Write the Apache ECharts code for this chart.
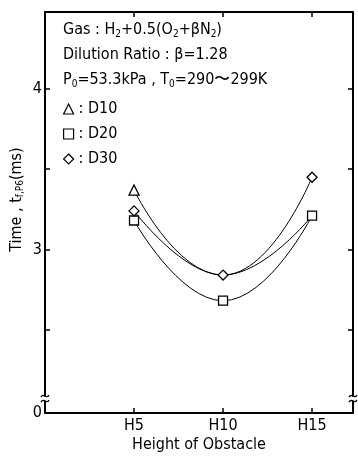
<!DOCTYPE html>
<html><head><meta charset="utf-8">
<script src="https://cdn.jsdelivr.net/npm/echarts@6/dist/echarts.min.js"></script>
<style>html,body{margin:0;padding:0;background:#fff}#c{width:358px;height:458px}</style>
</head><body><div id="c"></div>
<script>
const categories = ['H5', 'H10', 'H15'];
const xPositions = [5, 10, 15];
const seriesNames = ['D10', 'D20', 'D30'];
const d10 = [3.37, 2.84, 3.21];
const d20 = [3.18, 2.68, 3.21];
const d30 = [3.24, 2.84, 3.45];
const yTickLabels = [0, 3, 4];
const yTickMarks = [2.5, 3, 3.5, 4];
const yBreak = [0.09, 2.07];
const d10MarkerShown = [true, false, false];

const FONT = "'Liberation Sans Narrow','DejaVu Sans Condensed','Liberation Sans',sans-serif";
const chart = echarts.init(document.getElementById('c'));

function pts(vals, shown) {
  return vals.map((v, i) => {
    const item = { value: [xPositions[i], v] };
    if (shown && !shown[i]) item.symbol = 'none';
    return item;
  });
}
const axisLine = { show: true, onZero: false, lineStyle: { color: '#000', width: 2 } };
const axisTick = { show: true, inside: true, length: 5, lineStyle: { color: '#000', width: 1.5 } };
const yAxisTick = Object.assign({ customValues: yTickMarks }, axisTick);
const xLab = v => { const i = xPositions.indexOf(v); return i >= 0 ? categories[i] : ''; };
const sym = { color: '#fff', borderColor: '#000', borderWidth: 1.3 };

const option = {
  animation: false,
  grid: { left: 45, right: 5, top: 12, bottom: 45, containLabel: false, outerBoundsMode: 'none' },
  xAxis: [
    { type: 'value', min: 0, max: 17.3, interval: 5, position: 'bottom', axisLine, axisTick,
      splitLine: { show: false },
      axisLabel: { formatter: xLab, color: '#000', fontFamily: FONT, fontSize: 16, margin: 5 },
      name: 'Height of Obstacle', nameLocation: 'middle', nameGap: 24, nameMoveOverlap: false,
      nameTextStyle: { color: '#000', fontFamily: FONT, fontSize: 16 } },
    { type: 'value', min: 0, max: 17.3, interval: 5, position: 'top', axisLine, axisTick,
      splitLine: { show: false }, axisLabel: { show: false } }
  ],
  yAxis: [
    { type: 'value', min: 0, max: 4.48, interval: 0.5, position: 'left', axisLine, axisTick: yAxisTick,
      breaks: [{ start: yBreak[0], end: yBreak[1], gap: 0 }], breakArea: { show: false },
      splitLine: { show: false },
      axisLabel: { customValues: yTickLabels, formatter: v => String(Math.round(v)), color: '#000', fontFamily: FONT, fontSize: 16, margin: 3, hideOverlap: false },
      name: 'Time , t{s|f,P6}(ms)', nameLocation: 'middle', nameGap: 20, nameMoveOverlap: false,
      nameTextStyle: { color: '#000', fontFamily: FONT, fontSize: 16, padding: [0, 0, 0, 26],
        rich: { s: { fontFamily: FONT, fontSize: 10, verticalAlign: 'bottom', padding: [6, 0, 0, 0] } } } },
    { type: 'value', min: 0, max: 4.48, interval: 0.5, position: 'right', axisLine, axisTick: yAxisTick,
      breaks: [{ start: yBreak[0], end: yBreak[1], gap: 0 }], breakArea: { show: false },
      splitLine: { show: false }, axisLabel: { show: false } }
  ],
  legend: {
    orient: 'vertical', left: 63, top: 101, padding: 0, itemWidth: 10, itemHeight: 10, itemGap: 9,
    data: [{ name: 'D10', icon: 'triangle' }, { name: 'D20', icon: 'rect' }, { name: 'D30', icon: 'diamond' }],
    formatter: n => ': ' + n,
    textStyle: { color: '#000', fontFamily: FONT, fontSize: 16, padding: [0, 0, 0, 0] },
    itemStyle: { color: '#fff', borderColor: '#000', borderWidth: 1.2 }
  },
  graphic: [
    { type: 'text', left: 63, top: 22, style: { text: 'Gas : H{s|2}+0.5(O{s|2}+βN{s|2})', fill: '#000', font: '16px ' + FONT,
      rich: { s: { fontSize: 10, fontFamily: FONT, padding: [8, 0, 0, 0] } } } },
    { type: 'text', left: 63, top: 47, style: { text: 'Dilution Ratio : β=1.28', fill: '#000', font: '16px ' + FONT } },
    { type: 'text', left: 63, top: 72, style: { text: 'P{s|0}=53.3kPa , T{s|0}=290〜299K', fill: '#000', font: '16px ' + FONT,
      rich: { s: { fontSize: 10, fontFamily: FONT, padding: [8, 0, 0, 0] } } } }
  ],
  series: [
    { name: seriesNames[0], type: 'line', smooth: 0.5, symbol: 'triangle', symbolSize: 10, data: pts(d10, d10MarkerShown),
      lineStyle: { color: '#000', width: 1 }, itemStyle: sym, z: 2 },
    { name: seriesNames[1], type: 'line', smooth: 0.5, symbol: 'rect', symbolSize: 9, data: pts(d20),
      lineStyle: { color: '#000', width: 1 }, itemStyle: sym, z: 3 },
    { name: seriesNames[2], type: 'line', smooth: 0.5, symbol: 'diamond', symbolSize: [10, 10], data: pts(d30),
      lineStyle: { color: '#000', width: 1 }, itemStyle: sym, z: 4 }
  ]
};
chart.setOption(option);

// axis-break squiggles on left and right axes
const yb = chart.convertToPixel({ yAxisIndex: 0 }, yBreak[0]);
const xl = chart.convertToPixel({ xAxisIndex: 0 }, 0);
const xr = chart.convertToPixel({ xAxisIndex: 0 }, 17.3);
const g = [];
[xl, xr].forEach(x => {
  g.push({ type: 'rect', shape: { x: x - 2, y: yb - 2, width: 4, height: 4 }, style: { fill: '#fff' }, z: 100 });
  [-2.5, 2.5].forEach(dy => {
    g.push({ type: 'bezierCurve', z: 101,
      shape: { x1: x - 4, y1: yb + dy + 1, x2: x + 4, y2: yb + dy - 1, cpx1: x - 1, cpy1: yb + dy - 4, cpx2: x + 1, cpy2: yb + dy + 4 },
      style: { stroke: '#000', lineWidth: 1.3, fill: null } });
  });
});
chart.setOption({ graphic: option.graphic.concat(g) });
</script></body></html>
